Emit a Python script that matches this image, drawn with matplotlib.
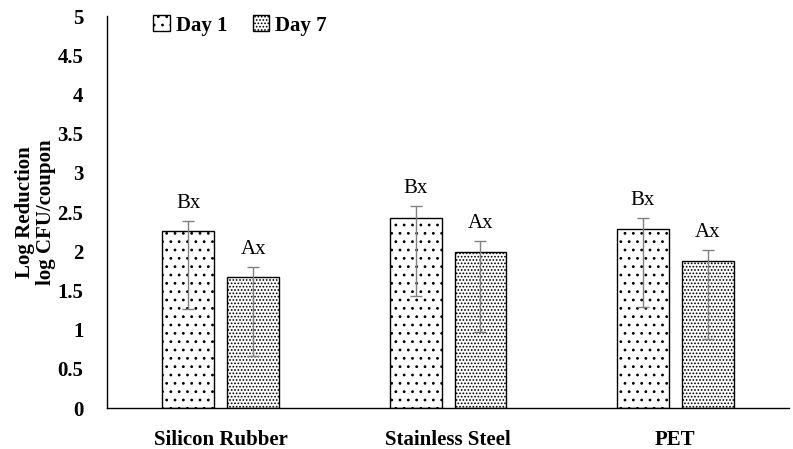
import numpy as np
import matplotlib.pyplot as plt

plt.rcParams['font.family'] = ['Liberation Serif', 'DejaVu Serif']
plt.rcParams['hatch.linewidth'] = 0.8

materials = ['Silicon Rubber', 'Stainless Steel', 'PET']
day1 = [2.26, 2.43, 2.29]
day7 = [1.67, 1.99, 1.88]
day1_err_up = [0.13, 0.15, 0.14]
day1_err_down = [1.0, 1.0, 1.0]
day7_err_up = [0.13, 0.14, 0.14]
day7_err_down = [1.0, 1.02, 1.0]
day1_labels = ['Bx', 'Bx', 'Bx']
day7_labels = ['Ax', 'Ax', 'Ax']

fig, ax = plt.subplots(figsize=(7.93, 4.49), dpi=100)
fig.subplots_adjust(left=0.135, right=0.995, bottom=0.091, top=0.964)

x = np.arange(len(materials))
w = 0.228
off = (w + 0.057) / 2

b1 = ax.bar(x - off, day1, w, color='white', edgecolor='black', linewidth=1.0,
            hatch='..', label='Day 1')
b7 = ax.bar(x + off, day7, w, color='white', edgecolor='black', linewidth=1.0,
            hatch='.....', label='Day 7')
ax.errorbar(x - off, day1, yerr=[day1_err_down, day1_err_up], fmt='none',
            ecolor='#808080', elinewidth=1.0, capsize=4)
ax.errorbar(x + off, day7, yerr=[day7_err_down, day7_err_up], fmt='none',
            ecolor='#808080', elinewidth=1.0, capsize=4)

for xi, v, e, t in zip(x - off, day1, day1_err_up, day1_labels):
    ax.text(xi, v + e + 0.1, t, ha='center', va='bottom', fontsize=15)
for xi, v, e, t in zip(x + off, day7, day7_err_up, day7_labels):
    ax.text(xi, v + e + 0.1, t, ha='center', va='bottom', fontsize=15)

ax.set_xlim(-0.5, 2.5)
ax.set_ylim(0, 5)
ax.set_yticks(np.arange(0, 5.01, 0.5))
ax.set_yticklabels(['0', '0.5', '1', '1.5', '2', '2.5', '3', '3.5', '4', '4.5', '5'],
                   fontsize=15, fontweight='bold')
ax.set_xticks(x)
ax.set_xticklabels(materials, fontsize=15, fontweight='bold')
ax.tick_params(axis='y', length=0, pad=17)
ax.tick_params(axis='x', length=0, pad=16)
for s in ['top', 'right']:
    ax.spines[s].set_visible(False)
ax.spines['left'].set_linewidth(1.0)
ax.spines['bottom'].set_linewidth(1.0)

ax.set_ylabel('Log Reduction\nlog CFU/coupon', fontsize=15, fontweight='bold',
              linespacing=1.05)
ax.yaxis.set_label_coords(-0.075, 0.5)

ax.legend(handles=[b1, b7], loc='upper left', bbox_to_anchor=(0.04, 1.05),
          ncol=2, frameon=False, prop={'size': 15, 'weight': 'bold'},
          handlelength=0.8, handleheight=0.8, handletextpad=0.3, columnspacing=1.2)

fig.savefig('out.png', dpi=100)
